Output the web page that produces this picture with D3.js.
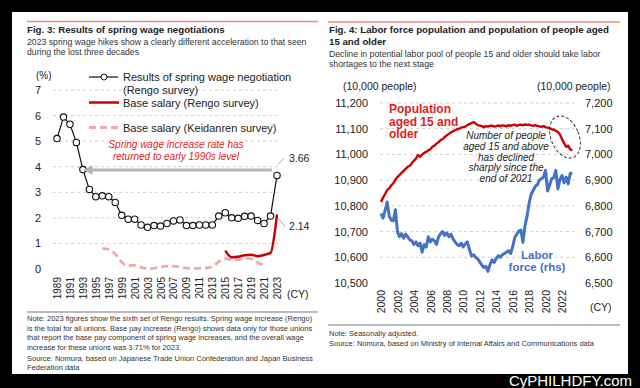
<!DOCTYPE html>
<html>
<head>
<meta charset="utf-8">
<script src="https://cdn.jsdelivr.net/npm/d3@7"></script>
<style>
  body { margin: 0; background: #000; }
  text { font-family: "Liberation Sans", Arial, sans-serif; }
</style>
</head>
<body>
<svg id="chart" width="640" height="388"></svg>
<script>
// ---- Fig. 3 data ----
var wageYears = d3.range(1989, 2024);
var rengoTotal = [5.10, 5.94, 5.66, 4.95, 3.89, 3.11, 2.83, 2.86, 2.83, 2.60, 2.10, 1.95, 1.95, 1.72, 1.63, 1.70, 1.68, 1.78, 1.88, 1.92, 1.70, 1.70, 1.72, 1.72, 1.72, 2.07, 2.20, 2.00, 1.98, 2.06, 2.07, 1.90, 1.78, 2.07, 3.66];
var baseYears = d3.range(2015, 2024);
var rengoBase = [0.72, 0.46, 0.48, 0.54, 0.56, 0.50, 0.55, 0.63, 2.14];
var keidanrenYears = d3.range(1996, 2022);
var keidanrenBase = [0.80, 0.79, 0.62, 0.22, 0.10, 0.18, 0.05, 0.01, 0.02, 0.08, 0.12, 0.12, 0.08, 0.03, 0.02, 0.03, 0.03, 0.06, 0.30, 0.46, 0.32, 0.36, 0.42, 0.42, 0.25, 0.14];
var wageTicks = [0, 1, 2, 3, 4, 5, 6, 7];
var wageYearTicks = d3.range(1989, 2024, 2);

// ---- Fig. 4 data (quarterly, 2000 Q1 .. 2023 Q2) ----
var pop15 = [
  10815, 10832, 10846, 10862,  10868, 10880, 10888, 10902,  10912, 10920, 10928, 10936,
  10944, 10952, 10956, 10966,  10976, 10984, 10998, 10990,  11000, 11006, 11010, 11016,
  11020, 11030, 11034, 11042,  11048, 11056, 11060, 11068,  11074, 11080, 11086, 11090,
  11094, 11098, 11100, 11104,  11106, 11108, 11114, 11118,  11122, 11126, 11120, 11114,
  11112, 11110, 11106, 11110,  11108, 11111, 11112, 11108,  11110, 11113, 11109, 11113,
  11112, 11109, 11114, 11111,  11114, 11116, 11111, 11115,  11116, 11113, 11117, 11115,
  11116, 11113, 11111, 11114,  11111, 11109, 11107, 11110,  11106, 11104, 11101, 11098,
  11096, 11092, 11087, 11078,  11060, 11044, 11030, 11034,  11020, 11015
];
var laborForce = [
  6770, 6752, 6782, 6815,  6760, 6745, 6742, 6785,  6700, 6680, 6692, 6674,
  6690, 6680, 6668, 6664,  6650, 6660, 6645, 6655,  6620, 6650, 6640, 6680,
  6660, 6670, 6664, 6650,  6680, 6692, 6700, 6685,  6695, 6680, 6690, 6672,
  6660, 6650, 6645, 6655,  6640, 6652, 6660, 6630,  6605, 6610, 6600, 6594,
  6582, 6570, 6560, 6565,  6545, 6572, 6590, 6580,  6595, 6606, 6600, 6610,
  6615, 6620, 6626, 6615,  6640, 6676, 6690, 6702,  6706, 6658, 6722, 6760,
  6810, 6845, 6860, 6876,  6882, 6900, 6906, 6912,  6938, 6858, 6882, 6906,
  6910, 6938, 6866, 6902,  6918, 6890, 6912, 6886,  6926, 6928
];
var popTicks = [10500, 10600, 10700, 10800, 10900, 11000, 11100, 11200];
var laborTicks = [6500, 6600, 6700, 6800, 6900, 7000, 7100, 7200];
var popYearTicks = d3.range(2000, 2023, 2);

var svg = d3.select("#chart");
svg.append("rect").attr("x", 12).attr("y", 12).attr("width", 616).attr("height", 362).attr("fill", "#fff");

// watermark at the bottom edge
svg.append("text").attr("x", 632).attr("y", 386).attr("text-anchor", "end")
  .attr("fill", "#fff").style("font-size", "15px").text("CyPHILHDFY.com");

// ============== Fig. 3 ==============
var g3 = svg.append("g");
g3.append("line").attr("x1", 27).attr("x2", 318).attr("y1", 21.5).attr("y2", 21.5)
  .attr("stroke", "#e8898b").attr("stroke-width", 1.5);
g3.append("text").attr("x", 27).attr("y", 33).style("font-size", "9.7px").style("font-weight", "bold")
  .attr("fill", "#222").text("Fig. 3: Results of spring wage negotiations");
g3.append("text").attr("x", 27).attr("y", 45).style("font-size", "8.7px").attr("fill", "#333")
  .text("2023 spring wage hikes show a clearly different acceleration to that seen");
g3.append("text").attr("x", 27).attr("y", 55).style("font-size", "8.7px").attr("fill", "#333")
  .text("during the lost three decades");

var x3 = d3.scaleLinear().domain([1989, 2023]).range([57, 277]);
var y3 = d3.scaleLinear().domain([0, 7]).range([269, 90]);

g3.selectAll(".grid").data(wageTicks.slice(1)).enter().append("line")
  .attr("x1", 53).attr("x2", 280)
  .attr("y1", d => y3(d)).attr("y2", d => y3(d))
  .attr("stroke", "#d0d0d0").attr("stroke-dasharray", "3,3");

var yAxis3 = g3.append("g").attr("transform", "translate(41,0)")
  .call(d3.axisLeft(y3).tickValues(wageTicks).tickFormat(d3.format("d")).tickSize(0).tickPadding(0));
yAxis3.select(".domain").remove();
yAxis3.selectAll("text").style("font-size", "11px").attr("fill", "#222");
g3.append("text").attr("x", 36).attr("y", 79).style("font-size", "10px").attr("fill", "#222").text("(%)");

var xAxis3 = g3.append("g").attr("transform", "translate(0,277)")
  .call(d3.axisBottom(x3).tickValues(wageYearTicks).tickFormat(d3.format("d")).tickSize(0));
xAxis3.select(".domain").remove();
xAxis3.selectAll("text").attr("x", 0).attr("y", 0).attr("dy", "0.35em")
  .attr("transform", "rotate(-90)").style("text-anchor", "end").style("font-size", "10px").attr("fill", "#222");
g3.append("text").attr("x", 287).attr("y", 298).style("font-size", "10.5px").attr("fill", "#222").text("(CY)");

// Keidanren dashed
g3.append("path").datum(keidanrenBase)
  .attr("fill", "none").attr("stroke", "#f2a8a8").attr("stroke-width", 2.8).attr("stroke-dasharray", "7,4")
  .attr("d", d3.line().x((d, i) => x3(keidanrenYears[i])).y(d => y3(d)).curve(d3.curveBasis));

// Rengo base
g3.append("path").datum(rengoBase)
  .attr("fill", "none").attr("stroke", "#cc0000").attr("stroke-width", 2.5)
  .attr("d", d3.line().x((d, i) => x3(baseYears[i])).y(d => y3(d)).curve(d3.curveMonotoneX));

// Rengo total
g3.append("path").datum(rengoTotal)
  .attr("fill", "none").attr("stroke", "#111").attr("stroke-width", 1.2)
  .attr("d", d3.line().x((d, i) => x3(wageYears[i])).y(d => y3(d)));
g3.selectAll(".pt").data(rengoTotal).enter().append("circle")
  .attr("cx", (d, i) => x3(wageYears[i])).attr("cy", d => y3(d)).attr("r", 3.2)
  .attr("fill", "#fff").attr("stroke", "#111").attr("stroke-width", 1.1);

// arrow back to early 1990s
var defs = svg.append("defs");
defs.append("marker").attr("id", "arrowG").attr("viewBox", "0 0 10 10").attr("refX", 2).attr("refY", 5)
  .attr("markerWidth", 3.2).attr("markerHeight", 3.2).attr("orient", "auto-start-reverse")
  .append("path").attr("d", "M0,0L10,5L0,10z").attr("fill", "#b5b5b5");
g3.append("line").attr("x1", x3(2022.2)).attr("x2", x3(1994.2))
  .attr("y1", y3(3.87)).attr("y2", y3(3.87))
  .attr("stroke", "#b5b5b5").attr("stroke-width", 3).attr("marker-end", "url(#arrowG)");

g3.append("text").attr("x", 176).attr("y", 148).attr("text-anchor", "middle").style("font-size", "10px")
  .style("font-style", "italic").attr("fill", "#e02020").text("Spring wage increase rate has");
g3.append("text").attr("x", 176).attr("y", 160).attr("text-anchor", "middle").style("font-size", "10px")
  .style("font-style", "italic").attr("fill", "#e02020").text("returned to early 1990s level");

// end labels
g3.append("line").attr("x1", x3(2023) + 1).attr("y1", y3(3.66) - 11).attr("x2", x3(2023) + 7).attr("y2", y3(3.66) - 17)
  .attr("stroke", "#888").attr("stroke-width", 0.8);
g3.append("text").attr("x", 289).attr("y", 162).style("font-size", "10.5px").attr("fill", "#222").text("3.66");
g3.append("line").attr("x1", x3(2023) + 1).attr("y1", y3(2.14) + 4).attr("x2", x3(2023) + 8).attr("y2", y3(2.14) + 12)
  .attr("stroke", "#888").attr("stroke-width", 0.8);
g3.append("text").attr("x", 289).attr("y", 230).style("font-size", "10.5px").attr("fill", "#222").text("2.14");

// legend
var lg = g3.append("g").style("font-size", "11px").attr("fill", "#222");
lg.append("line").attr("x1", 89).attr("x2", 118).attr("y1", 77).attr("y2", 77).attr("stroke", "#111").attr("stroke-width", 1.2);
lg.append("circle").attr("cx", 104).attr("cy", 77).attr("r", 3).attr("fill", "#fff").attr("stroke", "#111");
lg.append("text").attr("x", 123).attr("y", 81).text("Results of spring wage negotiation");
lg.append("text").attr("x", 123).attr("y", 94).text("(Rengo survey)");
lg.append("line").attr("x1", 89).attr("x2", 119).attr("y1", 102.5).attr("y2", 102.5).attr("stroke", "#cc0000").attr("stroke-width", 2.5);
lg.append("text").attr("x", 123).attr("y", 106.5).text("Base salary (Rengo survey)");
lg.append("line").attr("x1", 89).attr("x2", 118).attr("y1", 127.5).attr("y2", 127.5).attr("stroke", "#f2a8a8")
  .attr("stroke-width", 2.8).attr("stroke-dasharray", "7,4");
lg.append("text").attr("x", 123).attr("y", 131.5).text("Base salary (Keidanren survey)");

// notes
g3.append("line").attr("x1", 27).attr("x2", 318).attr("y1", 312).attr("y2", 312).attr("stroke", "#555").attr("stroke-width", 0.8);
var notes3 = [
  "Note: 2023 figures show the sixth set of Rengo results. Spring wage increase (Rengo)",
  "is the total for all unions. Base pay increase (Rengo) shows data only for those unions",
  "that report the base pay component of spring wage increases, and the overall wage",
  "increase for these unions was 3.71% for 2023."
];
g3.selectAll(".note").data(notes3).enter().append("text")
  .attr("x", 27).attr("y", (d, i) => 321 + i * 9.7).style("font-size", "7.5px").attr("fill", "#333").text(d => d);
g3.append("text").attr("x", 27).attr("y", 361).style("font-size", "7.5px").attr("fill", "#333")
  .text("Source: Nomura, based on Japanese Trade Union Confederation and Japan Business");
g3.append("text").attr("x", 27).attr("y", 370).style("font-size", "7.5px").attr("fill", "#333").text("Federation data");

// ============== Fig. 4 ==============
var g4 = svg.append("g");
g4.append("line").attr("x1", 328).attr("x2", 620).attr("y1", 22).attr("y2", 22)
  .attr("stroke", "#e8898b").attr("stroke-width", 1.5);
g4.append("text").attr("x", 329).attr("y", 33).style("font-size", "9.7px").style("font-weight", "bold")
  .attr("fill", "#222").text("Fig. 4: Labor force population and population of people aged");
g4.append("text").attr("x", 329).attr("y", 44.5).style("font-size", "9.7px").style("font-weight", "bold")
  .attr("fill", "#222").text("15 and older");
g4.append("text").attr("x", 329).attr("y", 57).style("font-size", "8.7px").attr("fill", "#333")
  .text("Decline in potential labor pool of people 15 and older should take labor");
g4.append("text").attr("x", 329).attr("y", 67).style("font-size", "8.7px").attr("fill", "#333")
  .text("shortages to the next stage");

var qx = pop15.map((d, i) => 2000 + i * 0.25);
var x4 = d3.scaleLinear().domain([2000, 2022]).range([381, 562]);
var yL = d3.scaleLinear().domain([10500, 11200]).range([283, 103]);
var yR = d3.scaleLinear().domain([6500, 7200]).range([283, 103]);

g4.selectAll(".grid").data(popTicks.slice(1)).enter().append("line")
  .attr("x1", 380).attr("x2", 575)
  .attr("y1", d => yL(d)).attr("y2", d => yL(d))
  .attr("stroke", "#d0d0d0").attr("stroke-dasharray", "3,3");

var yAxisL = g4.append("g").attr("transform", "translate(368,0)")
  .call(d3.axisLeft(yL).tickValues(popTicks).tickFormat(d3.format(",")).tickSize(0).tickPadding(0));
yAxisL.select(".domain").remove();
yAxisL.selectAll("text").style("font-size", "11px").attr("fill", "#222");

var yAxisR = g4.append("g").attr("transform", "translate(585,0)")
  .call(d3.axisRight(yR).tickValues(laborTicks).tickFormat(d3.format(",")).tickSize(0).tickPadding(0));
yAxisR.select(".domain").remove();
yAxisR.selectAll("text").style("font-size", "11px").attr("fill", "#222");

g4.append("text").attr("x", 343).attr("y", 90).style("font-size", "10.5px").attr("fill", "#222").text("(10,000 people)");
g4.append("text").attr("x", 537).attr("y", 90).style("font-size", "10.5px").attr("fill", "#222").text("(10,000 people)");

var xAxis4 = g4.append("g").attr("transform", "translate(0,290)")
  .call(d3.axisBottom(x4).tickValues(popYearTicks).tickFormat(d3.format("d")).tickSize(0));
xAxis4.select(".domain").remove();
xAxis4.selectAll("text").attr("x", 0).attr("y", 0).attr("dy", "0.35em")
  .attr("transform", "rotate(-90)").style("text-anchor", "end").style("font-size", "10.5px").attr("fill", "#222");
g4.append("text").attr("x", 590).attr("y", 311).style("font-size", "10.5px").attr("fill", "#222").text("(CY)");

g4.append("path").datum(laborForce)
  .attr("fill", "none").attr("stroke", "#4472c4").attr("stroke-width", 3).attr("stroke-linejoin", "round")
  .attr("d", d3.line().x((d, i) => x4(qx[i])).y(d => yR(d)));
g4.append("path").datum(pop15)
  .attr("fill", "none").attr("stroke", "#cc0000").attr("stroke-width", 2.4).attr("stroke-linejoin", "round")
  .attr("d", d3.line().x((d, i) => x4(qx[i])).y(d => yL(d)));

// annotations
var popLbl = ["Population", "aged 15 and", "older"];
g4.selectAll(".plbl").data(popLbl).enter().append("text")
  .attr("x", 389).attr("y", (d, i) => 113 + i * 12.5).style("font-size", "12px").style("font-weight", "bold")
  .attr("fill", "#e02020").text(d => d);
var noteLbl = ["Number of people", "aged 15 and above", "has declined", "sharply since the", "end of 2021"];
g4.selectAll(".nlbl").data(noteLbl).enter().append("text")
  .attr("x", 506).attr("y", (d, i) => 139 + i * 10.8).attr("text-anchor", "middle").style("font-size", "10px")
  .style("font-style", "italic").attr("fill", "#222").text(d => d);
g4.append("ellipse").attr("cx", 0).attr("cy", 0).attr("rx", 14).attr("ry", 22)
  .attr("transform", "translate(565,137) rotate(-22)")
  .attr("fill", "none").attr("stroke", "#222").attr("stroke-width", 0.9).attr("stroke-dasharray", "3,2");
var lfLbl = ["Labor", "force (rhs)"];
g4.selectAll(".llbl").data(lfLbl).enter().append("text")
  .attr("x", 537).attr("y", (d, i) => 259 + i * 12).attr("text-anchor", "middle").style("font-size", "11.5px")
  .style("font-weight", "bold").attr("fill", "#4472c4").text(d => d);

g4.append("line").attr("x1", 328).attr("x2", 620).attr("y1", 325).attr("y2", 325).attr("stroke", "#555").attr("stroke-width", 0.8);
g4.append("text").attr("x", 329).attr("y", 336).style("font-size", "7.5px").attr("fill", "#333").text("Note: Seasonally adjusted.");
g4.append("text").attr("x", 329).attr("y", 346).style("font-size", "7.5px").attr("fill", "#333")
  .text("Source: Nomura, based on Ministry of Internal Affairs and Communications data");
</script>
</body>
</html>
